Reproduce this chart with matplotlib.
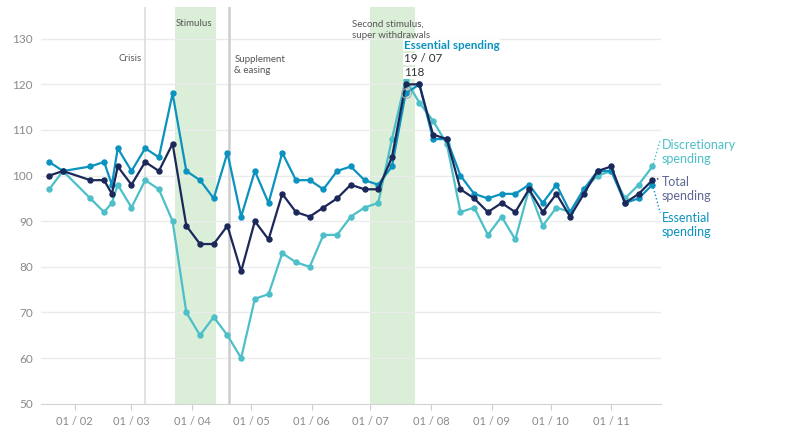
import numpy as np
import pandas as pd
import matplotlib
matplotlib.use("Agg")
import matplotlib.pyplot as plt
import matplotlib.dates as mdates

# weekly index values, 2020
fechas = ["2020-01-19", "2020-01-26", "2020-02-09", "2020-02-16", "2020-02-20", "2020-02-23",
          "2020-03-01", "2020-03-08", "2020-03-15", "2020-03-22", "2020-03-29", "2020-04-05",
          "2020-04-12", "2020-04-19", "2020-04-26", "2020-05-03", "2020-05-10", "2020-05-17",
          "2020-05-24", "2020-05-31", "2020-06-07", "2020-06-14", "2020-06-21", "2020-06-28",
          "2020-07-05", "2020-07-12", "2020-07-19", "2020-07-26", "2020-08-02", "2020-08-09",
          "2020-08-16", "2020-08-23", "2020-08-30", "2020-09-06", "2020-09-13", "2020-09-20",
          "2020-09-27", "2020-10-04", "2020-10-11", "2020-10-18", "2020-10-25", "2020-11-01",
          "2020-11-08", "2020-11-15", "2020-11-22"]

essencial = [103, 101, 102, 103, 98, 106, 101, 106, 104, 118, 101, 99, 95, 105, 91, 101, 94, 105,
             99, 99, 97, 101, 102, 99, 98, 102, 118, 120, 108, 108, 100, 96, 95, 96, 96, 98,
             94, 98, 92, 97, 101, 101, 94, 95, 98]
total = [100, 101, 99, 99, 96, 102, 98, 103, 101, 107, 89, 85, 85, 89, 79, 90, 86, 96,
         92, 91, 93, 95, 98, 97, 97, 104, 120, 120, 109, 108, 97, 95, 92, 94, 92, 97,
         92, 96, 91, 96, 101, 102, 94, 96, 99]
discricionario = [97, 101, 95, 92, 94, 98, 93, 99, 97, 90, 70, 65, 69, 65, 60, 73, 74, 83,
                  81, 80, 87, 87, 91, 93, 94, 108, 121, 116, 112, 107, 92, 93, 87, 91, 86, 97,
                  89, 93, 92, 97, 100, 101, 95, 98, 102]

meses = ["2020-02-01", "2020-03-01", "2020-04-01", "2020-05-01", "2020-06-01",
         "2020-07-01", "2020-08-01", "2020-09-01", "2020-10-01", "2020-11-01"]
rotulos_meses = ["01 / 02", "01 / 03", "01 / 04", "01 / 05", "01 / 06",
                 "01 / 07", "01 / 08", "01 / 09", "01 / 10", "01 / 11"]

faixas_estimulo = [("2020-03-23", "2020-04-13"), ("2020-07-01", "2020-07-24")]
linha_crise = "2020-03-08"
linha_suplemento = "2020-04-20"

cor_ess = "#0b92bf"
cor_tot = "#1b2859"
cor_dis = "#4cbfc8"
cor_rot_tot = "#5d6792"
cor_texto = "#555555"
cor_eixo = "#8a8a8a"

plt.rcParams['font.family'] = ['Lato', 'DejaVu Sans']

x = pd.to_datetime(fechas)
d = lambda s: mdates.date2num(pd.Timestamp(s))

fig = plt.figure(figsize=(8, 4.37), dpi=100)
ax = fig.add_axes([0.05125, 0.0762, 0.775, 0.9082])

ax.set_xlim(d("2020-01-14") + 0.8, d("2020-11-26") + 0.4)
ax.set_ylim(50, 137)

# bandas e linhas verticais
for ini, fim in faixas_estimulo:
    ax.axvspan(d(ini), d(fim), color="#daeed8", lw=0, zorder=0)
ax.axvline(d(linha_crise), color="#dddddd", lw=1.2, zorder=0.5)
ax.axvline(d(linha_suplemento), color="#cdcdcd", lw=1.8, zorder=0.5)

# grade
for v in range(60, 140, 10):
    ax.axhline(v, color="#ebebeb", lw=1, zorder=0.2)

ax.plot(x, discricionario, color=cor_dis, lw=1.6, marker="o", ms=3.6, zorder=3)
ax.plot(x, essencial, color=cor_ess, lw=1.6, marker="o", ms=3.6, zorder=4)
ax.plot(x, total, color=cor_tot, lw=1.6, marker="o", ms=3.6, zorder=5)

# marcador de destaque
ax.plot([x[26]], [essencial[26]], marker="o", ms=7, mfc="none", mec="#aaaaaa", mew=0.8, zorder=6)

for s in ["top", "right", "left"]:
    ax.spines[s].set_visible(False)
ax.spines["bottom"].set_color("#d4d4d4")

ax.set_yticks(range(50, 140, 10))
ax.tick_params(axis="y", length=0, labelsize=8.5, labelcolor=cor_eixo, pad=6)
ax.set_xticks([d(m) for m in meses])
ax.set_xticklabels(rotulos_meses)
ax.tick_params(axis="x", length=4, color="#cccccc", labelsize=8, labelcolor=cor_eixo, pad=5)

# anotacoes
ax.text(d(linha_crise) - 2, 125.6, "Crisis", ha="right", va="center", fontsize=7, color=cor_texto)
ax.text(d("2020-03-23") + 0.5, 133.4, "Stimulus", ha="left", va="center", fontsize=7, color=cor_texto)
ax.text(d(linha_suplemento) + 2.5, 124.2, "Supplement\n& easing", ha="left", va="center",
        fontsize=7, color=cor_texto, linespacing=1.35)
ax.text(d("2020-06-21") + 0.6, 132.0, "Second stimulus,\nsuper withdrawals", ha="left", va="center",
        fontsize=7, color=cor_texto, linespacing=1.35)

caixa = dict(facecolor="white", edgecolor="none", pad=0.5)
ax.text(x[26] - pd.Timedelta(days=1), 128.6, "Essential spending", ha="left", va="center",
        fontsize=8.4, fontweight="bold", color=cor_ess, bbox=caixa, zorder=7)
ax.text(x[26] - pd.Timedelta(days=1), 125.6, "19 / 07", ha="left", va="center",
        fontsize=8.4, color="#333333", bbox=caixa, zorder=7)
ax.text(x[26] - pd.Timedelta(days=1), 122.5, str(essencial[26]), ha="left", va="center",
        fontsize=8.4, color="#333333", bbox=caixa, zorder=7)

# rotulos das series a direita
xf = d(fechas[-1])
ax.plot([xf + 0.5, xf + 4], [discricionario[-1] + 0.6, 107.8], ls=":", color=cor_dis, lw=1, clip_on=False)
ax.plot([xf + 0.5, xf + 4], [total[-1] + 0.1, 99.4], ls=":", color=cor_tot, lw=1, clip_on=False)
ax.plot([xf + 0.5, xf + 4], [essencial[-1] - 0.6, 91.8], ls=":", color=cor_ess, lw=1, clip_on=False)

ax.text(xf + 4.6, 105.2, "Discretionary\nspending", ha="left", va="center", fontsize=9,
        color=cor_dis, clip_on=False, linespacing=1.25)
ax.text(xf + 4.6, 97.1, "Total\nspending", ha="left", va="center", fontsize=9,
        color=cor_rot_tot, clip_on=False, linespacing=1.25)
ax.text(xf + 4.6, 89.2, "Essential\nspending", ha="left", va="center", fontsize=9,
        color=cor_ess, clip_on=False, linespacing=1.25)

fig.savefig("out.png", dpi=100)
